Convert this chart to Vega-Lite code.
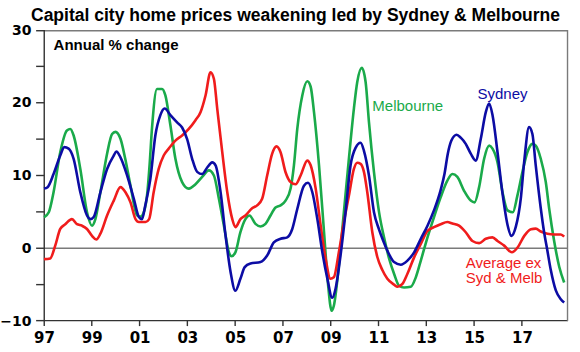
{
  "$schema": "https://vega.github.io/schema/vega-lite/v6.json",
  "width": 524,
  "height": 291,
  "autosize": {"type": "none"},
  "padding": {"left": 44, "top": 30, "right": 12, "bottom": 31},
  "background": "white",
  "config": {"view": {"stroke": null}},
  "title": {"text": "Capital city home prices weakening led by Sydney & Melbourne", "font": "Liberation Sans", "fontSize": 17.5, "fontWeight": "bold", "color": "black", "anchor": "start", "frame": "group", "dx": -13, "dy": 7, "offset": 6},
  "datasets": {
    "prices": [
      {"series": "Melbourne", "year": 1997.0, "value": 4.26},
      {"series": "Melbourne", "year": 1997.2, "value": 4.95},
      {"series": "Melbourne", "year": 1997.4, "value": 7.7},
      {"series": "Melbourne", "year": 1997.68, "value": 13.2},
      {"series": "Melbourne", "year": 1997.96, "value": 16.2},
      {"series": "Melbourne", "year": 1998.1, "value": 16.4},
      {"series": "Melbourne", "year": 1998.24, "value": 15.5},
      {"series": "Melbourne", "year": 1998.52, "value": 10.9},
      {"series": "Melbourne", "year": 1998.8, "value": 4.95},
      {"series": "Melbourne", "year": 1999.01, "value": 3.1},
      {"series": "Melbourne", "year": 1999.15, "value": 4.0},
      {"series": "Melbourne", "year": 1999.36, "value": 7.7},
      {"series": "Melbourne", "year": 1999.64, "value": 13.0},
      {"series": "Melbourne", "year": 1999.85, "value": 15.7},
      {"series": "Melbourne", "year": 1999.99, "value": 16.0},
      {"series": "Melbourne", "year": 2000.2, "value": 15.05},
      {"series": "Melbourne", "year": 2000.4, "value": 12.3},
      {"series": "Melbourne", "year": 2000.62, "value": 8.6},
      {"series": "Melbourne", "year": 2000.9, "value": 4.5},
      {"series": "Melbourne", "year": 2001.04, "value": 4.35},
      {"series": "Melbourne", "year": 2001.2, "value": 5.2},
      {"series": "Melbourne", "year": 2001.32, "value": 7.5},
      {"series": "Melbourne", "year": 2001.42, "value": 11.5},
      {"series": "Melbourne", "year": 2001.52, "value": 16.5},
      {"series": "Melbourne", "year": 2001.73, "value": 21.9},
      {"series": "Melbourne", "year": 2001.94, "value": 21.9},
      {"series": "Melbourne", "year": 2002.08, "value": 21.0},
      {"series": "Melbourne", "year": 2002.29, "value": 16.9},
      {"series": "Melbourne", "year": 2002.5, "value": 12.3},
      {"series": "Melbourne", "year": 2002.78, "value": 9.1},
      {"series": "Melbourne", "year": 2003.06, "value": 8.2},
      {"series": "Melbourne", "year": 2003.34, "value": 8.8},
      {"series": "Melbourne", "year": 2003.62, "value": 9.8},
      {"series": "Melbourne", "year": 2003.9, "value": 10.7},
      {"series": "Melbourne", "year": 2004.11, "value": 10.0},
      {"series": "Melbourne", "year": 2004.32, "value": 6.8},
      {"series": "Melbourne", "year": 2004.53, "value": 3.1},
      {"series": "Melbourne", "year": 2004.74, "value": -0.56},
      {"series": "Melbourne", "year": 2004.85, "value": -1.1},
      {"series": "Melbourne", "year": 2005.01, "value": -0.56},
      {"series": "Melbourne", "year": 2005.22, "value": 2.2},
      {"series": "Melbourne", "year": 2005.43, "value": 4.0},
      {"series": "Melbourne", "year": 2005.6, "value": 4.5},
      {"series": "Melbourne", "year": 2005.85, "value": 3.35},
      {"series": "Melbourne", "year": 2006.06, "value": 3.0},
      {"series": "Melbourne", "year": 2006.27, "value": 3.35},
      {"series": "Melbourne", "year": 2006.48, "value": 4.5},
      {"series": "Melbourne", "year": 2006.69, "value": 5.6},
      {"series": "Melbourne", "year": 2006.9, "value": 5.9},
      {"series": "Melbourne", "year": 2007.11, "value": 6.55},
      {"series": "Melbourne", "year": 2007.32, "value": 8.2},
      {"series": "Melbourne", "year": 2007.46, "value": 11.4},
      {"series": "Melbourne", "year": 2007.6, "value": 16.4},
      {"series": "Melbourne", "year": 2007.81, "value": 21.0},
      {"series": "Melbourne", "year": 2008.02, "value": 22.95},
      {"series": "Melbourne", "year": 2008.16, "value": 22.2},
      {"series": "Melbourne", "year": 2008.3, "value": 18.7},
      {"series": "Melbourne", "year": 2008.51, "value": 11.4},
      {"series": "Melbourne", "year": 2008.72, "value": 2.2},
      {"series": "Melbourne", "year": 2008.88, "value": -4.7},
      {"series": "Melbourne", "year": 2009.04, "value": -8.6},
      {"series": "Melbourne", "year": 2009.13, "value": -7.9},
      {"series": "Melbourne", "year": 2009.34, "value": -2.4},
      {"series": "Melbourne", "year": 2009.55, "value": 4.95},
      {"series": "Melbourne", "year": 2009.76, "value": 12.3},
      {"series": "Melbourne", "year": 2009.97, "value": 19.2},
      {"series": "Melbourne", "year": 2010.11, "value": 22.85},
      {"series": "Melbourne", "year": 2010.3, "value": 24.8},
      {"series": "Melbourne", "year": 2010.46, "value": 22.85},
      {"series": "Melbourne", "year": 2010.6, "value": 17.35},
      {"series": "Melbourne", "year": 2010.81, "value": 10.45},
      {"series": "Melbourne", "year": 2011.02, "value": 5.0},
      {"series": "Melbourne", "year": 2011.23, "value": 1.5},
      {"series": "Melbourne", "year": 2011.45, "value": -1.5},
      {"series": "Melbourne", "year": 2011.65, "value": -3.5},
      {"series": "Melbourne", "year": 2011.86, "value": -5.15},
      {"series": "Melbourne", "year": 2012.07, "value": -5.4},
      {"series": "Melbourne", "year": 2012.35, "value": -5.3},
      {"series": "Melbourne", "year": 2012.56, "value": -4.0},
      {"series": "Melbourne", "year": 2012.77, "value": -1.7},
      {"series": "Melbourne", "year": 2013.05, "value": 1.5},
      {"series": "Melbourne", "year": 2013.32, "value": 4.26},
      {"series": "Melbourne", "year": 2013.6, "value": 7.0},
      {"series": "Melbourne", "year": 2013.88, "value": 9.3},
      {"series": "Melbourne", "year": 2014.09, "value": 10.2},
      {"series": "Melbourne", "year": 2014.3, "value": 9.8},
      {"series": "Melbourne", "year": 2014.58, "value": 7.9},
      {"series": "Melbourne", "year": 2014.86, "value": 6.55},
      {"series": "Melbourne", "year": 2015.02, "value": 6.3},
      {"series": "Melbourne", "year": 2015.21, "value": 8.4},
      {"series": "Melbourne", "year": 2015.42, "value": 12.3},
      {"series": "Melbourne", "year": 2015.63, "value": 14.1},
      {"series": "Melbourne", "year": 2015.77, "value": 13.7},
      {"series": "Melbourne", "year": 2015.98, "value": 11.8},
      {"series": "Melbourne", "year": 2016.19, "value": 7.7},
      {"series": "Melbourne", "year": 2016.4, "value": 5.2},
      {"series": "Melbourne", "year": 2016.62, "value": 4.95},
      {"series": "Melbourne", "year": 2016.81, "value": 7.2},
      {"series": "Melbourne", "year": 2017.02, "value": 10.45},
      {"series": "Melbourne", "year": 2017.23, "value": 13.2},
      {"series": "Melbourne", "year": 2017.44, "value": 14.35},
      {"series": "Melbourne", "year": 2017.58, "value": 14.1},
      {"series": "Melbourne", "year": 2017.79, "value": 12.3},
      {"series": "Melbourne", "year": 2018.0, "value": 9.1},
      {"series": "Melbourne", "year": 2018.14, "value": 5.5},
      {"series": "Melbourne", "year": 2018.35, "value": 1.0},
      {"series": "Melbourne", "year": 2018.56, "value": -2.5},
      {"series": "Melbourne", "year": 2018.77, "value": -4.7},

      {"series": "Average", "year": 1997.0, "value": -1.5},
      {"series": "Average", "year": 1997.26, "value": -1.4},
      {"series": "Average", "year": 1997.47, "value": 0.36},
      {"series": "Average", "year": 1997.68, "value": 2.65},
      {"series": "Average", "year": 1997.89, "value": 3.3},
      {"series": "Average", "year": 1998.17, "value": 4.0},
      {"series": "Average", "year": 1998.38, "value": 3.3},
      {"series": "Average", "year": 1998.59, "value": 3.1},
      {"series": "Average", "year": 1998.8, "value": 2.65},
      {"series": "Average", "year": 1999.01, "value": 1.7},
      {"series": "Average", "year": 1999.19, "value": 1.2},
      {"series": "Average", "year": 1999.36, "value": 2.0},
      {"series": "Average", "year": 1999.64, "value": 4.5},
      {"series": "Average", "year": 1999.92, "value": 6.55},
      {"series": "Average", "year": 2000.2, "value": 8.4},
      {"series": "Average", "year": 2000.41, "value": 7.7},
      {"series": "Average", "year": 2000.62, "value": 6.3},
      {"series": "Average", "year": 2000.83, "value": 4.0},
      {"series": "Average", "year": 2000.97, "value": 3.6},
      {"series": "Average", "year": 2001.25, "value": 3.6},
      {"series": "Average", "year": 2001.4, "value": 4.0},
      {"series": "Average", "year": 2001.59, "value": 7.7},
      {"series": "Average", "year": 2001.8, "value": 10.9},
      {"series": "Average", "year": 2002.01, "value": 12.75},
      {"series": "Average", "year": 2002.22, "value": 13.7},
      {"series": "Average", "year": 2002.5, "value": 14.8},
      {"series": "Average", "year": 2002.78, "value": 15.5},
      {"series": "Average", "year": 2003.06, "value": 16.4},
      {"series": "Average", "year": 2003.34, "value": 17.6},
      {"series": "Average", "year": 2003.55, "value": 18.7},
      {"series": "Average", "year": 2003.76, "value": 21.0},
      {"series": "Average", "year": 2003.97, "value": 24.2},
      {"series": "Average", "year": 2004.11, "value": 23.3},
      {"series": "Average", "year": 2004.25, "value": 19.2},
      {"series": "Average", "year": 2004.46, "value": 13.2},
      {"series": "Average", "year": 2004.67, "value": 7.7},
      {"series": "Average", "year": 2004.88, "value": 4.0},
      {"series": "Average", "year": 2005.01, "value": 2.9},
      {"series": "Average", "year": 2005.22, "value": 4.0},
      {"series": "Average", "year": 2005.43, "value": 4.5},
      {"series": "Average", "year": 2005.71, "value": 5.5},
      {"series": "Average", "year": 2005.92, "value": 5.9},
      {"series": "Average", "year": 2006.13, "value": 6.8},
      {"series": "Average", "year": 2006.34, "value": 10.0},
      {"series": "Average", "year": 2006.55, "value": 13.0},
      {"series": "Average", "year": 2006.73, "value": 14.0},
      {"series": "Average", "year": 2006.9, "value": 13.2},
      {"series": "Average", "year": 2007.11, "value": 10.45},
      {"series": "Average", "year": 2007.32, "value": 9.1},
      {"series": "Average", "year": 2007.53, "value": 8.8},
      {"series": "Average", "year": 2007.74, "value": 10.0},
      {"series": "Average", "year": 2008.02, "value": 12.05},
      {"series": "Average", "year": 2008.16, "value": 11.4},
      {"series": "Average", "year": 2008.37, "value": 8.2},
      {"series": "Average", "year": 2008.58, "value": 3.1},
      {"series": "Average", "year": 2008.79, "value": -1.5},
      {"series": "Average", "year": 2008.99, "value": -4.2},
      {"series": "Average", "year": 2009.13, "value": -4.0},
      {"series": "Average", "year": 2009.34, "value": -0.56},
      {"series": "Average", "year": 2009.55, "value": 3.6},
      {"series": "Average", "year": 2009.76, "value": 7.2},
      {"series": "Average", "year": 2009.97, "value": 10.9},
      {"series": "Average", "year": 2010.11, "value": 11.75},
      {"series": "Average", "year": 2010.25, "value": 11.6},
      {"series": "Average", "year": 2010.39, "value": 10.5},
      {"series": "Average", "year": 2010.53, "value": 7.7},
      {"series": "Average", "year": 2010.74, "value": 2.2},
      {"series": "Average", "year": 2010.95, "value": -1.2},
      {"series": "Average", "year": 2011.16, "value": -3.0},
      {"series": "Average", "year": 2011.37, "value": -4.2},
      {"series": "Average", "year": 2011.65, "value": -5.0},
      {"series": "Average", "year": 2011.8, "value": -5.3},
      {"series": "Average", "year": 2012.0, "value": -4.9},
      {"series": "Average", "year": 2012.21, "value": -3.5},
      {"series": "Average", "year": 2012.49, "value": -1.25},
      {"series": "Average", "year": 2012.77, "value": 0.59},
      {"series": "Average", "year": 2013.05, "value": 2.4},
      {"series": "Average", "year": 2013.32, "value": 2.9},
      {"series": "Average", "year": 2013.6, "value": 3.3},
      {"series": "Average", "year": 2013.88, "value": 3.6},
      {"series": "Average", "year": 2014.09, "value": 3.4},
      {"series": "Average", "year": 2014.37, "value": 3.1},
      {"series": "Average", "year": 2014.65, "value": 2.2},
      {"series": "Average", "year": 2014.93, "value": 1.0},
      {"series": "Average", "year": 2015.21, "value": 0.7},
      {"series": "Average", "year": 2015.49, "value": 1.3},
      {"series": "Average", "year": 2015.77, "value": 1.5},
      {"series": "Average", "year": 2015.98, "value": 1.0},
      {"series": "Average", "year": 2016.26, "value": 0.36},
      {"series": "Average", "year": 2016.58, "value": -0.56},
      {"series": "Average", "year": 2016.82, "value": 0.1},
      {"series": "Average", "year": 2017.1, "value": 1.7},
      {"series": "Average", "year": 2017.38, "value": 2.6},
      {"series": "Average", "year": 2017.58, "value": 2.7},
      {"series": "Average", "year": 2017.79, "value": 2.3},
      {"series": "Average", "year": 2018.07, "value": 2.0},
      {"series": "Average", "year": 2018.35, "value": 1.9},
      {"series": "Average", "year": 2018.63, "value": 1.9},
      {"series": "Average", "year": 2018.77, "value": 1.6},

      {"series": "Sydney", "year": 1997.0, "value": 8.2},
      {"series": "Sydney", "year": 1997.15, "value": 8.4},
      {"series": "Sydney", "year": 1997.4, "value": 10.2},
      {"series": "Sydney", "year": 1997.68, "value": 12.75},
      {"series": "Sydney", "year": 1997.85, "value": 13.9},
      {"series": "Sydney", "year": 1998.03, "value": 13.7},
      {"series": "Sydney", "year": 1998.24, "value": 12.3},
      {"series": "Sydney", "year": 1998.52, "value": 7.7},
      {"series": "Sydney", "year": 1998.8, "value": 4.5},
      {"series": "Sydney", "year": 1998.94, "value": 4.0},
      {"series": "Sydney", "year": 1999.08, "value": 4.3},
      {"series": "Sydney", "year": 1999.36, "value": 7.7},
      {"series": "Sydney", "year": 1999.64, "value": 10.9},
      {"series": "Sydney", "year": 1999.92, "value": 12.75},
      {"series": "Sydney", "year": 2000.03, "value": 13.3},
      {"series": "Sydney", "year": 2000.2, "value": 12.5},
      {"series": "Sydney", "year": 2000.48, "value": 10.0},
      {"series": "Sydney", "year": 2000.76, "value": 6.8},
      {"series": "Sydney", "year": 2000.97, "value": 4.3},
      {"series": "Sydney", "year": 2001.1, "value": 4.0},
      {"series": "Sydney", "year": 2001.24, "value": 5.9},
      {"series": "Sydney", "year": 2001.45, "value": 9.5},
      {"series": "Sydney", "year": 2001.66, "value": 15.5},
      {"series": "Sydney", "year": 2001.87, "value": 18.3},
      {"series": "Sydney", "year": 2002.05, "value": 19.2},
      {"series": "Sydney", "year": 2002.29, "value": 18.3},
      {"series": "Sydney", "year": 2002.57, "value": 17.3},
      {"series": "Sydney", "year": 2002.78, "value": 16.6},
      {"series": "Sydney", "year": 2002.99, "value": 15.0},
      {"series": "Sydney", "year": 2003.2, "value": 12.3},
      {"series": "Sydney", "year": 2003.41, "value": 10.5},
      {"series": "Sydney", "year": 2003.62, "value": 10.2},
      {"series": "Sydney", "year": 2003.83, "value": 11.1},
      {"series": "Sydney", "year": 2004.04, "value": 11.8},
      {"series": "Sydney", "year": 2004.18, "value": 11.4},
      {"series": "Sydney", "year": 2004.39, "value": 7.7},
      {"series": "Sydney", "year": 2004.6, "value": 1.7},
      {"series": "Sydney", "year": 2004.81, "value": -3.3},
      {"series": "Sydney", "year": 2005.01, "value": -5.85},
      {"series": "Sydney", "year": 2005.22, "value": -4.2},
      {"series": "Sydney", "year": 2005.4, "value": -2.6},
      {"series": "Sydney", "year": 2005.64, "value": -2.1},
      {"series": "Sydney", "year": 2006.06, "value": -1.9},
      {"series": "Sydney", "year": 2006.34, "value": -1.0},
      {"series": "Sydney", "year": 2006.62, "value": 0.8},
      {"series": "Sydney", "year": 2006.9, "value": 1.3},
      {"series": "Sydney", "year": 2007.18, "value": 1.5},
      {"series": "Sydney", "year": 2007.39, "value": 2.65},
      {"series": "Sydney", "year": 2007.6, "value": 5.4},
      {"series": "Sydney", "year": 2007.88, "value": 8.6},
      {"series": "Sydney", "year": 2008.05, "value": 9.0},
      {"series": "Sydney", "year": 2008.23, "value": 7.7},
      {"series": "Sydney", "year": 2008.44, "value": 4.0},
      {"series": "Sydney", "year": 2008.65, "value": -0.56},
      {"series": "Sydney", "year": 2008.86, "value": -4.2},
      {"series": "Sydney", "year": 2009.06, "value": -6.8},
      {"series": "Sydney", "year": 2009.2, "value": -5.6},
      {"series": "Sydney", "year": 2009.41, "value": -1.0},
      {"series": "Sydney", "year": 2009.62, "value": 4.95},
      {"series": "Sydney", "year": 2009.83, "value": 11.4},
      {"series": "Sydney", "year": 2010.04, "value": 13.8},
      {"series": "Sydney", "year": 2010.25, "value": 14.5},
      {"series": "Sydney", "year": 2010.39, "value": 13.4},
      {"series": "Sydney", "year": 2010.6, "value": 10.0},
      {"series": "Sydney", "year": 2010.81, "value": 4.95},
      {"series": "Sydney", "year": 2011.02, "value": 2.6},
      {"series": "Sydney", "year": 2011.2, "value": 1.0},
      {"series": "Sydney", "year": 2011.37, "value": -0.33},
      {"series": "Sydney", "year": 2011.65, "value": -1.9},
      {"series": "Sydney", "year": 2011.93, "value": -2.26},
      {"series": "Sydney", "year": 2012.21, "value": -1.7},
      {"series": "Sydney", "year": 2012.49, "value": -0.56},
      {"series": "Sydney", "year": 2012.77, "value": 1.3},
      {"series": "Sydney", "year": 2013.05, "value": 3.1},
      {"series": "Sydney", "year": 2013.32, "value": 5.2},
      {"series": "Sydney", "year": 2013.6, "value": 8.0},
      {"series": "Sydney", "year": 2013.76, "value": 10.2},
      {"series": "Sydney", "year": 2013.9, "value": 13.0},
      {"series": "Sydney", "year": 2014.05, "value": 14.8},
      {"series": "Sydney", "year": 2014.27, "value": 15.6},
      {"series": "Sydney", "year": 2014.44, "value": 15.2},
      {"series": "Sydney", "year": 2014.65, "value": 14.35},
      {"series": "Sydney", "year": 2014.86, "value": 13.0},
      {"series": "Sydney", "year": 2015.07, "value": 12.05},
      {"series": "Sydney", "year": 2015.28, "value": 15.05},
      {"series": "Sydney", "year": 2015.49, "value": 18.7},
      {"series": "Sydney", "year": 2015.63, "value": 19.9},
      {"series": "Sydney", "year": 2015.77, "value": 18.3},
      {"series": "Sydney", "year": 2015.98, "value": 13.2},
      {"series": "Sydney", "year": 2016.19, "value": 7.5},
      {"series": "Sydney", "year": 2016.4, "value": 3.2},
      {"series": "Sydney", "year": 2016.56, "value": 1.7},
      {"series": "Sydney", "year": 2016.75, "value": 3.0},
      {"series": "Sydney", "year": 2016.96, "value": 7.0},
      {"series": "Sydney", "year": 2017.1, "value": 12.0},
      {"series": "Sydney", "year": 2017.3, "value": 16.65},
      {"series": "Sydney", "year": 2017.44, "value": 15.7},
      {"series": "Sydney", "year": 2017.58, "value": 11.4},
      {"series": "Sydney", "year": 2017.79, "value": 5.5},
      {"series": "Sydney", "year": 2017.93, "value": 2.2},
      {"series": "Sydney", "year": 2018.05, "value": 0.0},
      {"series": "Sydney", "year": 2018.21, "value": -3.0},
      {"series": "Sydney", "year": 2018.42, "value": -5.8},
      {"series": "Sydney", "year": 2018.63, "value": -7.0},
      {"series": "Sydney", "year": 2018.77, "value": -7.45}
    ],
    "hlines": [{"value": 0, "kind": "zero"}, {"value": 29.9, "kind": "frame"}, {"value": -9.95, "kind": "axis"}],
    "vlines": [{"year": 1997.01, "kind": "axis"}, {"year": 2018.91, "kind": "frame"}],
    "yticks": [{"value": -9.95}, {"value": -5}, {"value": 0}, {"value": 5}, {"value": 10}, {"value": 15}, {"value": 20}, {"value": 25}, {"value": 29.9}],
    "xticks": [{"year": 1997.01}, {"year": 1999}, {"year": 2001}, {"year": 2003}, {"year": 2005}, {"year": 2007}, {"year": 2009}, {"year": 2011}, {"year": 2013}, {"year": 2015}, {"year": 2017}],
    "header": [{"label": "Annual % change", "year": 1997.4, "value": 27.9}],
    "labels": [
      {"label": "Melbourne", "kind": "Melbourne", "year": 2010.74, "value": 19.5},
      {"label": "Sydney", "kind": "Sydney", "year": 2015.14, "value": 21.15},
      {"label": "Average ex", "kind": "Average", "year": 2014.65, "value": -2.08},
      {"label": "Syd & Melb", "kind": "Average", "year": 2014.65, "value": -4.1}
    ]
  },
  "layer": [
    {
      "data": {"name": "hlines"},
      "mark": {"type": "rule", "strokeWidth": 1.4},
      "encoding": {
        "y": {"field": "value", "type": "quantitative"},
        "color": {"condition": {"test": "datum.kind === 'axis'", "value": "#333333"}, "value": "#7a7a7a"}
      }
    },
    {
      "data": {"name": "vlines"},
      "mark": {"type": "rule", "strokeWidth": 1.4},
      "encoding": {
        "x": {"field": "year", "type": "quantitative"},
        "color": {"condition": {"test": "datum.kind === 'axis'", "value": "#333333"}, "value": "#7a7a7a"}
      }
    },
    {
      "data": {"name": "yticks"},
      "mark": {"type": "rule", "strokeWidth": 1.4, "color": "#333333"},
      "encoding": {
        "y": {"field": "value", "type": "quantitative"},
        "x": {"datum": 1996.67},
        "x2": {"datum": 1997.01}
      }
    },
    {
      "data": {"name": "xticks"},
      "mark": {"type": "rule", "strokeWidth": 1.4, "color": "#333333"},
      "encoding": {
        "x": {"field": "year", "type": "quantitative"},
        "y": {"datum": -9.95},
        "y2": {"datum": -10.7}
      }
    },
    {
      "data": {"name": "prices"},
      "mark": {"type": "line", "strokeWidth": 2.6, "interpolate": "monotone"},
      "encoding": {
        "x": {
          "field": "year", "type": "quantitative",
          "scale": {"domain": [1997, 2018.93], "nice": false, "zero": false},
          "axis": {"values": [1997, 1999, 2001, 2003, 2005, 2007, 2009, 2011, 2013, 2015, 2017], "format": "d", "labelExpr": "slice(datum.label, 2)", "title": null, "grid": false, "domain": false, "ticks": false, "labelFont": "DejaVu Sans", "labelFontWeight": "bold", "labelFontSize": 15, "labelColor": "black", "labelPadding": 9, "labelFlush": false, "labelOverlap": false}
        },
        "y": {
          "field": "value", "type": "quantitative",
          "scale": {"domain": [-10, 30], "nice": false, "zero": false},
          "axis": {"values": [-10, -5, 0, 5, 10, 15, 20, 25, 30], "title": null, "grid": false, "domain": false, "ticks": false, "labelFont": "DejaVu Sans", "labelFontWeight": "bold", "labelFontSize": 14, "labelColor": "black", "labelPadding": 13, "labelFlush": false, "labelOverlap": false}
        },
        "color": {"field": "series", "type": "nominal", "scale": {"domain": ["Melbourne", "Average", "Sydney"], "range": ["#1aaa4a", "#f01c1c", "#0c0ca4"]}, "legend": null},
        "order": {"field": "year", "type": "quantitative"}
      }
    },
    {
      "data": {"name": "header"},
      "mark": {"type": "text", "font": "Liberation Sans", "fontSize": 15, "fontWeight": "bold", "color": "black", "align": "left", "baseline": "middle"},
      "encoding": {
        "x": {"field": "year", "type": "quantitative"},
        "y": {"field": "value", "type": "quantitative"},
        "text": {"field": "label"}
      }
    },
    {
      "data": {"name": "labels"},
      "mark": {"type": "text", "font": "Liberation Sans", "fontSize": 15, "align": "left", "baseline": "middle"},
      "encoding": {
        "x": {"field": "year", "type": "quantitative"},
        "y": {"field": "value", "type": "quantitative"},
        "text": {"field": "label"},
        "color": {"field": "kind", "type": "nominal", "legend": null}
      }
    }
  ]
}
